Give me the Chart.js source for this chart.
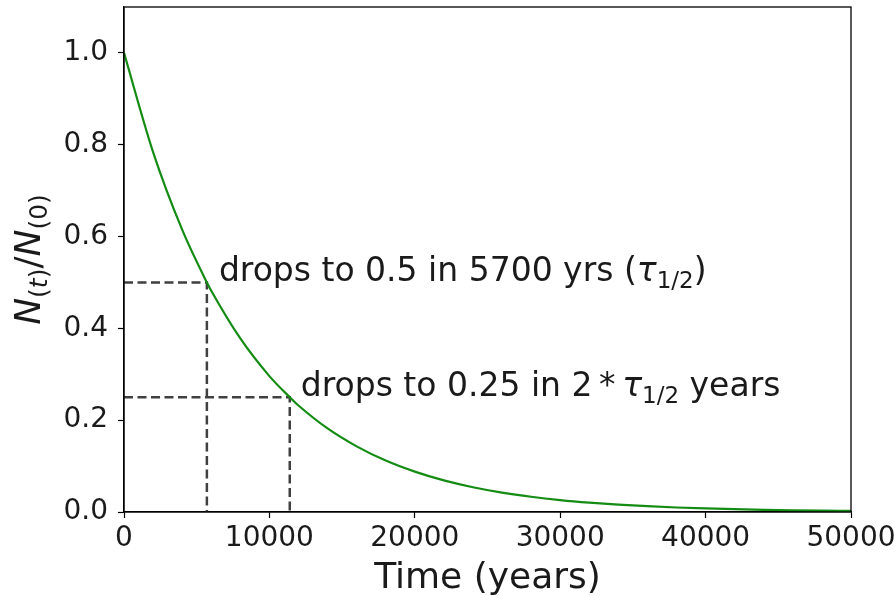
<!DOCTYPE html>
<html>
<head>
<meta charset="utf-8">
<script src="https://cdn.jsdelivr.net/npm/chart.js@4.4.1/dist/chart.umd.min.js"></script>
<style>
  html, body { margin: 0; padding: 0; background: #ffffff; }
  #wrap { width: 895px; height: 596px; }
</style>
</head>
<body>
<div id="wrap"><canvas id="decay" width="895" height="596"></canvas></div>
<script>
// Carbon-14 decay: remaining fraction N(t)/N(0) against time in years
const years = [0, 2000, 4000, 5700, 6000, 8000, 10000, 11400, 12000, 14000, 16000, 18000,
  20000, 22000, 24000, 26000, 28000, 30000, 32000, 34000, 36000, 38000, 40000,
  42000, 44000, 46000, 48000, 50000];
const remaining = [1.000, 0.784, 0.615, 0.500, 0.482, 0.378, 0.296, 0.250, 0.232, 0.182, 0.143, 0.112,
  0.0879, 0.0689, 0.0540, 0.0423, 0.0332, 0.0260, 0.0204, 0.0160, 0.0126, 0.0098, 0.0077,
  0.0061, 0.0048, 0.0037, 0.0029, 0.0023];

// Half-life markers
const markerYears = [5700, 11400];
const markerFractions = [0.5, 0.25];

const xTicks = [0, 10000, 20000, 30000, 40000, 50000];
const yTicks = [0.0, 0.2, 0.4, 0.6, 0.8, 1.0];

const FONT = "'DejaVu Sans', 'Liberation Sans', sans-serif";
const INK = '#1a1a1a';

const curve = years.map((t, i) => ({ x: t, y: remaining[i] }));
const guides = markerYears.map((t, i) => ({
  label: 'half-life ' + (i + 1),
  data: [{ x: 0, y: markerFractions[i] }, { x: t, y: markerFractions[i] }, { x: t, y: 0 }],
  borderColor: '#404040',
  borderWidth: 2.5,
  borderDash: [9, 4.5],
  pointRadius: 0,
  tension: 0,
  fill: false
}));

// Draw a run of text pieces left to right; each piece may be shifted down and resized
function drawRuns(ctx, runs, x, y) {
  let cx = x;
  for (const r of runs) {
    ctx.font = (r.italic ? 'italic ' : '') + r.size + 'px ' + FONT;
    ctx.fillText(r.text, cx, y + (r.dy || 0));
    cx += ctx.measureText(r.text).width;
  }
  return cx;
}
function runsWidth(ctx, runs) {
  let w = 0;
  for (const r of runs) {
    ctx.font = (r.italic ? 'italic ' : '') + r.size + 'px ' + FONT;
    w += ctx.measureText(r.text).width;
  }
  return w;
}

const decorations = {
  id: 'decorations',
  afterDraw(chart) {
    const { ctx, chartArea: a, scales } = chart;
    ctx.save();
    // frame around the plot area
    ctx.strokeStyle = '#000';
    ctx.lineWidth = 1.3;
    ctx.strokeRect(a.left, a.top, a.right - a.left, a.bottom - a.top);

    ctx.fillStyle = INK;
    ctx.textBaseline = 'alphabetic';
    ctx.textAlign = 'left';

    const big = 33, sub = 23;
    // annotation for the first half-life
    const p1x = scales.x.getPixelForValue(markerYears[0]);
    const p1y = scales.y.getPixelForValue(markerFractions[0]);
    drawRuns(ctx, [
      { text: 'drops to 0.5 in 5700 yrs (', size: big },
      { text: '\u03C4', size: big, italic: true },
      { text: '1/2', size: sub, dy: 7 },
      { text: ')', size: big }
    ], p1x + 12, p1y - 1);

    // annotation for the second half-life
    const p2x = scales.x.getPixelForValue(markerYears[1]);
    const p2y = scales.y.getPixelForValue(markerFractions[1]);
    drawRuns(ctx, [
      { text: 'drops to 0.25 in 2\u2009*\u2009', size: big },
      { text: '\u03C4', size: big, italic: true },
      { text: '1/2', size: sub, dy: 7 },
      { text: ' years', size: big }
    ], p2x + 11, p2y - 1);

    // x-axis title
    ctx.font = '36px ' + FONT;
    ctx.textAlign = 'center';
    ctx.fillText('Time (years)', (a.left + a.right) / 2, 588);

    // y-axis title, rotated
    const ty = 36, ts = 25;
    const yRuns = [
      { text: 'N', size: ty, italic: true },
      { text: '(', size: ts, dy: 7 },
      { text: 't', size: ts, dy: 7, italic: true },
      { text: ')', size: ts, dy: 7 },
      { text: '/', size: ty },
      { text: 'N', size: ty, italic: true },
      { text: '(0)', size: ts, dy: 7 }
    ];
    ctx.textAlign = 'left';
    const w = runsWidth(ctx, yRuns);
    ctx.translate(40, (a.top + a.bottom) / 2);
    ctx.rotate(-Math.PI / 2);
    drawRuns(ctx, yRuns, -w / 2, 0);
    ctx.restore();
  }
};

new Chart(document.getElementById('decay'), {
  type: 'line',
  data: {
    datasets: [
      {
        label: 'N(t)/N(0)',
        data: curve,
        borderColor: '#148c14',
        borderWidth: 2.2,
        pointRadius: 0,
        cubicInterpolationMode: 'monotone',
        fill: false
      },
      ...guides
    ]
  },
  options: {
    responsive: false,
    animation: false,
    events: [],
    layout: { padding: { top: 7, right: 44, left: 0, bottom: 0 } },
    plugins: { legend: { display: false }, tooltip: { enabled: false } },
    scales: {
      x: {
        type: 'linear',
        min: 0,
        max: 50000,
        afterFit(s) { s.height = 84; s.paddingLeft = 0; s.paddingRight = 0; },
        afterBuildTicks(s) { s.ticks = xTicks.map(v => ({ value: v })); },
        grid: { drawOnChartArea: false, drawTicks: true, tickLength: 6, tickColor: '#000', tickWidth: 1.2 },
        border: { display: true, color: '#000', width: 1.3 },
        ticks: {
          maxRotation: 0,
          autoSkip: false,
          padding: 4,
          color: INK,
          font: { family: FONT, size: 28 },
          callback: v => String(v)
        }
      },
      y: {
        type: 'linear',
        min: 0,
        max: 1.1,
        afterFit(s) { s.width = 124; s.paddingTop = 0; s.paddingBottom = 0; },
        afterBuildTicks(s) { s.ticks = yTicks.map(v => ({ value: v })); },
        grid: { drawOnChartArea: false, drawTicks: true, tickLength: 6, tickColor: '#000', tickWidth: 1.2 },
        border: { display: true, color: '#000', width: 1.3 },
        ticks: {
          padding: 10,
          color: INK,
          font: { family: FONT, size: 28 },
          callback: v => Number(v).toFixed(1)
        }
      }
    }
  },
  plugins: [decorations]
});
</script>
</body>
</html>
